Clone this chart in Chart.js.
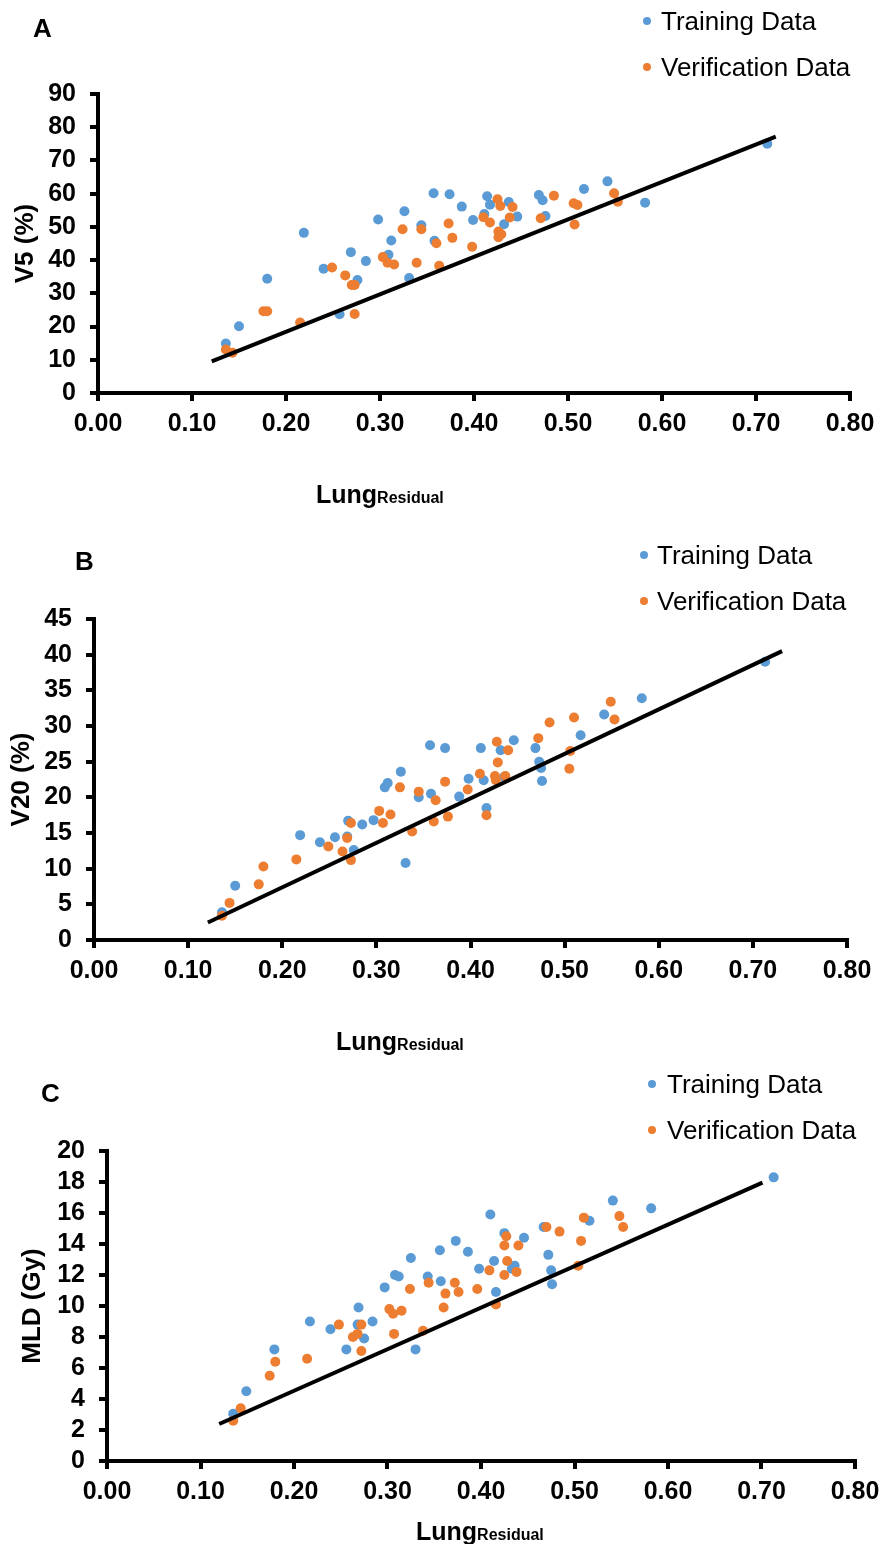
<!DOCTYPE html>
<html>
<head>
<meta charset="utf-8">
<script src="https://cdn.jsdelivr.net/npm/chart.js@4.4.1/dist/chart.umd.min.js"></script>
<style>
  html, body { margin: 0; padding: 0; background: #fff; overflow: hidden; }
  body { position: relative; width: 880px; height: 1544px; font-family: "Liberation Sans", Arial, sans-serif; }
  canvas { position: absolute; left: 0; }
  .txt { position: absolute; line-height: 1; white-space: nowrap; color: #000; }
  .dot { position: absolute; width: 8px; height: 8px; border-radius: 50%; }
</style>
</head>
<body>
<canvas id="chartA" width="900" height="530" style="top:0px"></canvas>
<canvas id="chartB" width="900" height="530" style="top:530px"></canvas>
<canvas id="chartC" width="900" height="484" style="top:1060px"></canvas>
<script>
// shared axis ticks
const xTicks = [0, 0.1, 0.2, 0.3, 0.4, 0.5, 0.6, 0.7, 0.8];
const blue = '#5B9BD5';
const orange = '#ED7D31';

// Panel A - V5 (%)
const aTrainX = [0.136,0.150,0.180,0.219,0.240,0.257,0.269,0.276,0.285,0.298,0.309,0.312,0.326,0.331,0.344,0.357,0.358,0.374,0.387,0.399,0.411,0.414,0.417,0.432,0.437,0.446,0.469,0.473,0.476,0.517,0.542,0.582,0.712];
const aTrainY = [14.9,20.1,34.4,48.2,37.4,23.7,42.4,34.0,39.7,52.2,41.6,45.9,54.7,34.6,50.5,60.1,45.8,59.8,56.1,52.1,53.9,59.2,56.7,50.8,57.5,53.1,59.6,58.0,53.3,61.4,63.7,57.3,75.0];
const aVerifX = [0.136,0.143,0.176,0.180,0.215,0.249,0.263,0.270,0.273,0.273,0.303,0.308,0.315,0.324,0.339,0.344,0.360,0.363,0.373,0.377,0.398,0.410,0.417,0.425,0.428,0.426,0.426,0.429,0.438,0.441,0.471,0.485,0.506,0.510,0.507,0.549,0.553];
const aVerifY = [13.1,12.1,24.6,24.6,21.2,37.8,35.4,32.5,32.5,23.8,40.9,39.2,38.7,49.3,39.2,49.3,45.1,38.3,51.0,46.7,44.0,52.9,51.3,58.3,56.3,48.6,46.9,47.8,52.8,56.0,52.6,59.4,57.1,56.6,50.7,60.1,57.6];
const aFitX = [0.121, 0.721];
const aFitY = [9.55, 77.2];
const aYTicks = [0, 10, 20, 30, 40, 50, 60, 70, 80, 90];

// Panel B - V20 (%)
const bTrainX = [0.136,0.150,0.219,0.240,0.256,0.270,0.269,0.276,0.285,0.297,0.309,0.312,0.326,0.331,0.345,0.357,0.358,0.373,0.388,0.398,0.411,0.414,0.417,0.432,0.436,0.446,0.469,0.473,0.475,0.476,0.517,0.542,0.582,0.713];
const bTrainY = [3.9,7.6,14.7,13.7,14.4,16.7,14.5,12.6,16.2,16.8,21.4,22.0,23.6,10.8,20.0,27.3,20.5,26.9,20.1,22.6,26.9,22.4,18.5,26.6,22.9,28.0,26.9,25.0,24.1,22.3,28.7,31.6,33.9,39.0];
const bVerifX = [0.136,0.144,0.175,0.180,0.215,0.249,0.264,0.269,0.273,0.273,0.303,0.307,0.315,0.325,0.338,0.345,0.361,0.363,0.373,0.376,0.397,0.410,0.417,0.426,0.427,0.428,0.429,0.437,0.440,0.472,0.484,0.506,0.505,0.510,0.549,0.553];
const bVerifY = [3.4,5.2,7.8,10.3,11.3,13.1,12.4,14.3,16.4,11.2,18.1,16.4,17.6,21.4,15.2,20.8,16.6,19.6,22.2,17.3,21.1,23.3,17.5,23.0,22.4,27.8,24.9,23.0,26.6,28.3,30.5,26.5,24.0,31.2,33.4,30.9];
const bFitX = [0.121, 0.731];
const bFitY = [2.46, 40.5];
const bYTicks = [0, 5, 10, 15, 20, 25, 30, 35, 40, 45];

// Panel C - MLD (Gy)
const cTrainX = [0.135,0.149,0.179,0.217,0.239,0.256,0.269,0.268,0.275,0.284,0.297,0.308,0.312,0.325,0.330,0.343,0.356,0.357,0.373,0.386,0.398,0.410,0.414,0.416,0.425,0.436,0.433,0.446,0.467,0.472,0.475,0.476,0.516,0.541,0.582,0.713];
const cTrainY = [3.05,4.5,7.2,9.0,8.5,7.2,9.9,8.8,7.9,9.0,11.2,12.0,11.9,13.1,7.2,11.9,13.6,11.6,14.2,13.5,12.4,15.9,12.9,10.9,14.7,12.6,12.4,14.4,15.1,13.3,12.3,11.4,15.5,16.8,16.3,18.3];
const cVerifX = [0.135,0.143,0.174,0.180,0.214,0.248,0.263,0.268,0.272,0.272,0.302,0.306,0.315,0.307,0.324,0.338,0.344,0.360,0.362,0.372,0.376,0.396,0.409,0.416,0.425,0.425,0.427,0.428,0.438,0.440,0.470,0.484,0.504,0.507,0.510,0.548,0.552];
const cVerifY = [2.6,3.4,5.5,6.4,6.6,8.8,8.0,8.2,8.8,7.1,9.8,9.5,9.7,8.2,11.1,8.4,11.5,9.9,10.8,11.5,10.9,11.1,12.3,10.1,12.0,13.9,14.5,12.9,12.2,13.9,15.1,14.8,12.6,14.2,15.7,15.8,15.1];
const cFitX = [0.120, 0.701];
const cFitY = [2.39, 17.96];
const cYTicks = [0, 2, 4, 6, 8, 10, 12, 14, 16, 18, 20];

const toPoints = (xs, ys) => xs.map((x, i) => ({ x: x, y: ys[i] }));
const fontFamily = '"Liberation Sans", Arial, sans-serif';

// one scatter panel; box = chart area inside the canvas
function makePanel(id, p) {
    const canvas = document.getElementById(id);
    const xAxisHeight = 60;
    new Chart(canvas.getContext('2d'), {
        type: 'scatter',
        data: {
            datasets: [
                {
                    label: 'Trend',
                    data: toPoints(p.fitX, p.fitY),
                    showLine: true,
                    borderColor: '#000',
                    borderWidth: 4,
                    pointRadius: 0,
                    order: 0
                },
                {
                    label: 'Training Data',
                    data: toPoints(p.trainX, p.trainY),
                    backgroundColor: blue,
                    borderWidth: 0,
                    pointRadius: 5,
                    order: 2
                },
                {
                    label: 'Verification Data',
                    data: toPoints(p.verifX, p.verifY),
                    backgroundColor: orange,
                    borderWidth: 0,
                    pointRadius: 5,
                    order: 1
                }
            ]
        },
        options: {
            responsive: false,
            animation: false,
            events: [],
            layout: {
                padding: {
                    left: 0,
                    top: p.top,
                    right: canvas.width - p.right,
                    bottom: canvas.height - p.bottom - xAxisHeight
                }
            },
            plugins: { legend: { display: false }, tooltip: { enabled: false } },
            scales: {
                x: {
                    type: 'linear',
                    min: xTicks[0],
                    max: xTicks[xTicks.length - 1],
                    afterBuildTicks: (scale) => { scale.ticks = xTicks.map(v => ({ value: v })); },
                    afterFit: (scale) => { scale.height = xAxisHeight; },
                    grid: { drawOnChartArea: false, tickLength: 8, color: '#000', lineWidth: 4 },
                    border: { color: '#000', width: 4 },
                    ticks: {
                        autoSkip: false,
                        maxRotation: 0,
                        padding: 8,
                        color: '#000',
                        font: { family: fontFamily, size: 25, weight: 'bold' },
                        callback: (v) => Number(v).toFixed(2)
                    }
                },
                y: {
                    type: 'linear',
                    min: p.yTicks[0],
                    max: p.yTicks[p.yTicks.length - 1],
                    afterBuildTicks: (scale) => { scale.ticks = p.yTicks.map(v => ({ value: v })); },
                    afterFit: (scale) => { scale.width = p.left; },
                    grid: { drawOnChartArea: false, tickLength: 8, color: '#000', lineWidth: 4 },
                    border: { color: '#000', width: 4 },
                    ticks: {
                        autoSkip: false,
                        padding: 14,
                        color: '#000',
                        font: { family: fontFamily, size: 25, weight: 'bold' }
                    },
                    title: {
                        display: true,
                        text: p.yTitle,
                        color: '#000',
                        padding: { top: p.titlePad, bottom: 0 },
                        font: { family: fontFamily, size: 26, weight: 'bold' }
                    }
                }
            }
        }
    });
}

makePanel('chartA', {
    trainX: aTrainX, trainY: aTrainY, verifX: aVerifX, verifY: aVerifY,
    fitX: aFitX, fitY: aFitY, yTicks: aYTicks, yTitle: 'V5 (%)',
    left: 98, right: 850, top: 94, bottom: 393, titlePad: 10
});
makePanel('chartB', {
    trainX: bTrainX, trainY: bTrainY, verifX: bVerifX, verifY: bVerifY,
    fitX: bFitX, fitY: bFitY, yTicks: bYTicks, yTitle: 'V20 (%)',
    left: 94, right: 847, top: 89, bottom: 410, titlePad: 6
});
makePanel('chartC', {
    trainX: cTrainX, trainY: cTrainY, verifX: cVerifX, verifY: cVerifY,
    fitX: cFitX, fitY: cFitY, yTicks: cYTicks, yTitle: 'MLD (Gy)',
    left: 107, right: 855, top: 91, bottom: 401, titlePad: 17
});

// text overlays, positioned by baseline (line-height 1, Arial ascent ~0.8465em)
function placeText(html, x, baseline, size, bold) {
    const d = document.createElement('div');
    d.className = 'txt';
    d.innerHTML = html;
    d.style.left = x + 'px';
    d.style.top = (baseline - 0.8465 * size) + 'px';
    d.style.fontSize = size + 'px';
    d.style.fontWeight = bold ? 'bold' : 'normal';
    document.body.appendChild(d);
}
function placeDot(cx, cy, color) {
    const d = document.createElement('div');
    d.className = 'dot';
    d.style.left = (cx - 4) + 'px';
    d.style.top = (cy - 4) + 'px';
    d.style.background = color;
    document.body.appendChild(d);
}

const panelLetters = [['A', 33, 37], ['B', 75, 570], ['C', 41, 1102]];
const legendSpots = [[647, 21, 661], [644, 555, 657], [652, 1084, 667]];
const xTitleSpots = [[316, 503], [336, 1050], [416, 1540]];

panelLetters.forEach(([t, x, b]) => placeText(t, x, b, 26, true));
legendSpots.forEach(([dx, dy, tx]) => {
    placeDot(dx, dy, blue);
    placeText('Training Data', tx, dy + 9.5, 26, false);
    placeDot(dx, dy + 45.5, orange);
    placeText('Verification Data', tx, dy + 55, 26, false);
});
xTitleSpots.forEach(([x, b]) => {
    placeText('Lung<span style="font-size:16px">Residual</span>', x, b, 25, true);
});
</script>
</body>
</html>
